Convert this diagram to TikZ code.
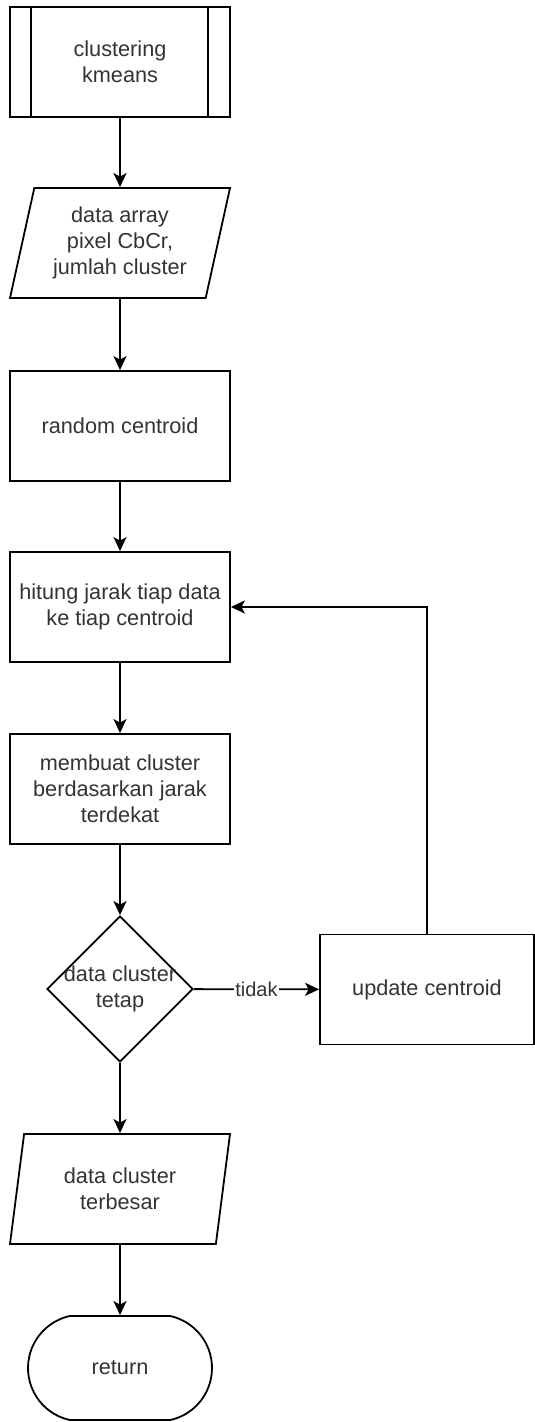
\documentclass[tikz,border=0pt]{standalone}
\usepackage{fontspec}
\setmainfont{Liberation Sans}
\usetikzlibrary{shapes.geometric,shapes.misc,arrows.meta,calc}
\definecolor{txt}{RGB}{51,51,51}
\begin{document}
\begin{tikzpicture}[x=1pt,y=1pt,
  base/.style={draw=black, line width=1.8pt, text=txt,
    font=\fontsize{21.7}{26}\selectfont, align=center, inner sep=0pt},
  procbox/.style={base, rectangle, minimum width=220pt, minimum height=110pt},
  iobox/.style={base, trapezium, trapezium left angle=71.4,
    trapezium right angle=108.6, trapezium stretches body,
    minimum width=220pt, minimum height=110pt},
  decision/.style={base, diamond, minimum width=146pt, minimum height=146pt},
  terminal/.style={base, rounded rectangle, rounded rectangle arc length=155,
    minimum width=184pt, minimum height=104pt},
  flow/.style={draw=black, line width=1.8pt,
    -{Stealth[length=14pt,width=13pt,inset=3.5pt]}},
  edgelabel/.style={fill=white, text=txt, inner sep=1pt,
    font=\fontsize{20}{24}\selectfont}
]
\useasboundingbox (0,0) rectangle (535,-1422);

% subroutine header
\node[procbox] (start) at (120,-62) {clustering\\kmeans};
\draw[line width=1.8pt] ($(start.north west)+(22,0)$) -- ($(start.south west)+(22,0)$);
\draw[line width=1.8pt] ($(start.north east)+(-23,0)$) -- ($(start.south east)+(-23,0)$);

\node[iobox] (input) at (120,-243) {data array\\pixel CbCr,\\jumlah cluster};
\node[procbox] (random) at (120,-426) {random centroid};
\node[procbox] (dist) at (120,-607) {hitung jarak tiap data\\ke tiap centroid};
\node[procbox] (assign) at (120,-789) {membuat cluster\\berdasarkan jarak\\terdekat};
\node[decision, label={[text=txt, align=center,
    font=\fontsize{21.7}{26}\selectfont]center:data cluster\\tetap}] (check) at (120,-989) {};
\node[base, rectangle, minimum width=214pt, minimum height=110pt] (update) at (427,-989.5) {update centroid};
\node[iobox] (output) at (120,-1189) {data cluster\\terbesar};
\node[terminal] (ret) at (120,-1368) {return};

% connectors
\draw[flow] (start) -- (input);
\draw[flow] (input) -- (random);
\draw[flow] (random) -- (dist);
\draw[flow] (dist) -- (assign);
\draw[flow] (assign) -- (check);
\draw[flow] (check) -- node[edgelabel] {tidak} (update);
\draw[flow] (update.north) |- (dist.east);
\draw[flow] (check) -- (output);
\draw[flow] (output) -- (ret);
\end{tikzpicture}
\end{document}
